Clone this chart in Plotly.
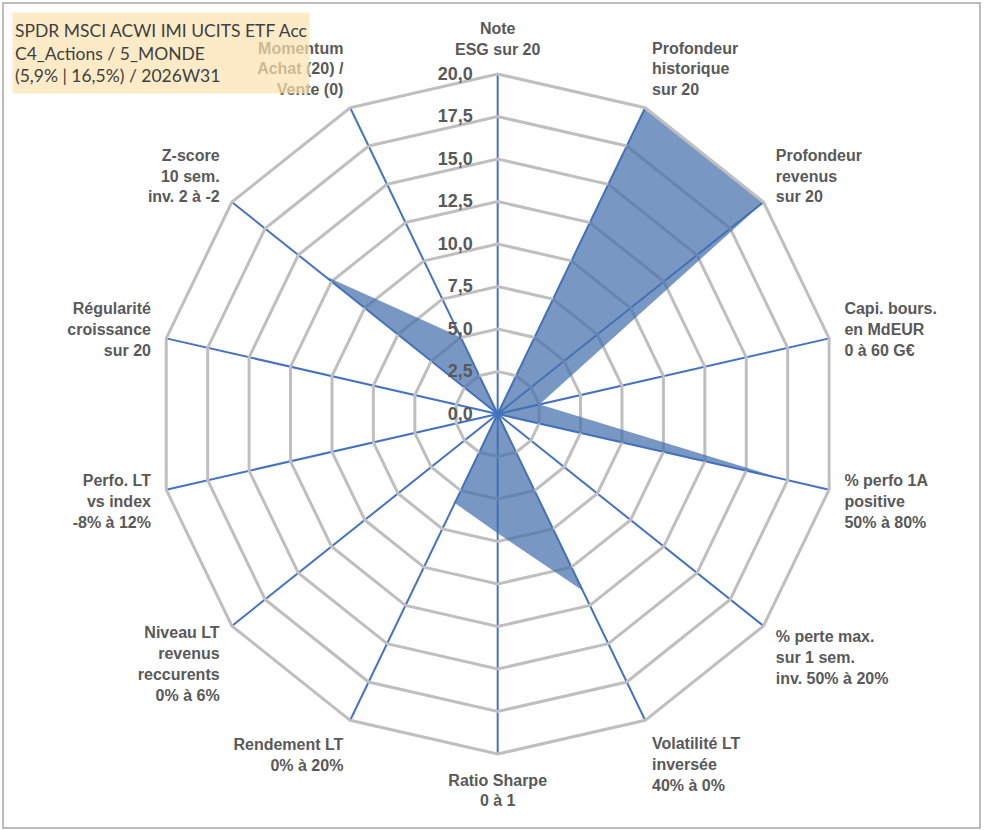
import plotly.graph_objects as go

# Axes du radar (ordre horaire depuis le haut)
criteres = [
    "Note<br>ESG sur 20",
    "Profondeur<br>historique<br>sur 20",
    "Profondeur<br>revenus<br>sur 20",
    "Capi. bours.<br>en MdEUR<br>0 à 60 G€",
    "% perfo 1A<br>positive<br>50% à 80%",
    "% perte max.<br>sur 1 sem.<br>inv. 50% à 20%",
    "Volatilité LT<br>inversée<br>40% à 0%",
    "Ratio Sharpe<br>0 à 1",
    "Rendement LT<br>0% à 20%",
    "Niveau LT<br>revenus<br>reccurents<br>0% à 6%",
    "Perfo. LT<br>vs index<br>-8% à 12%",
    "Régularité<br>croissance<br>sur 20",
    "Z-score<br>10 sem.<br>inv. 2 à -2",
    "Momentum<br>Achat (20) /<br>Vente (0)",
]
notes = [0, 20, 20, 2.5, 17.2, 0, 11.5, 7.0, 5.8, 0, 0, 0, 13.0, 5.0]

titre = [
    "SPDR MSCI ACWI IMI UCITS ETF Acc",
    "C4_Actions / 5_MONDE",
    "(5,9% | 16,5%) / 2026W31",
]

gris_txt = "#595959"
dom_x = [0.1591, 0.8453]
dom_y = [0.0916, 0.9108]

fig = go.Figure()

fig.add_trace(go.Scatterpolar(
    r=notes,
    theta=criteres,
    fill="toself",
    fillcolor="rgba(68,112,172,0.72)",
    line=dict(color="rgba(68,114,196,0.6)", width=0.5),
    mode="lines",
    subplot="polar2",
    hoverinfo="r+theta",
))

fig.update_layout(
    width=991,
    height=830,
    margin=dict(l=0, r=0, t=0, b=0),
    paper_bgcolor="white",
    showlegend=False,
    separators=", ",
    # grille secondaire (fine)
    polar=dict(
        domain=dict(x=dom_x, y=dom_y),
        gridshape="linear",
        bgcolor="white",
        radialaxis=dict(range=[0, 20], dtick=1.25, showticklabels=False,
                        gridcolor="#EDEDED", gridwidth=1, showline=False, ticks=""),
        angularaxis=dict(categoryarray=criteres, categoryorder="array",
                         direction="clockwise", rotation=90,
                         showgrid=False, showline=False, showticklabels=False, ticks=""),
    ),
    # grille principale + série
    polar2=dict(
        domain=dict(x=dom_x, y=dom_y),
        gridshape="linear",
        bgcolor="rgba(0,0,0,0)",
        radialaxis=dict(range=[0, 20], dtick=2.5, tickformat=".1f",
                        angle=90, side="counterclockwise", tickangle=90,
                        gridcolor="#BFBFBF", gridwidth=3, showline=False,
                        ticks="outside", ticklen=18, tickcolor="rgba(0,0,0,0)",
                        tickfont=dict(family="Liberation Sans", size=18,
                                      color=gris_txt, weight="bold")),
        angularaxis=dict(categoryarray=criteres, categoryorder="array",
                         direction="clockwise", rotation=90,
                         gridcolor="#4472C4", gridwidth=1.5,
                         showline=True, linecolor="#BFBFBF", linewidth=3,
                         ticks="outside", ticklen=11, tickcolor="rgba(0,0,0,0)",
                         tickfont=dict(family="Liberation Sans", size=16,
                                       color=gris_txt, weight="bold")),
    ),
)

fig.add_annotation(
    xref="paper", yref="paper", x=12 / 991, y=1 - 12 / 830,
    xanchor="left", yanchor="top",
    text="<br>".join(titre), align="left", showarrow=False,
    width=292, height=76, borderpad=2,
    bgcolor="rgba(252,226,176,0.7)",
    font=dict(family="Lato", size=17.5, color="#404040"),
)

fig.add_shape(type="rect", xref="paper", yref="paper",
              x0=3 / 991, x1=980 / 991, y0=2 / 830, y1=1 - 3 / 830,
              line=dict(color="#A6A6A6", width=1.5))

# pas de marge autour du graphique dans la page
fig.write_html("out.html", config={"displayModeBar": False},
               post_script="document.body.style.margin = '0';")
